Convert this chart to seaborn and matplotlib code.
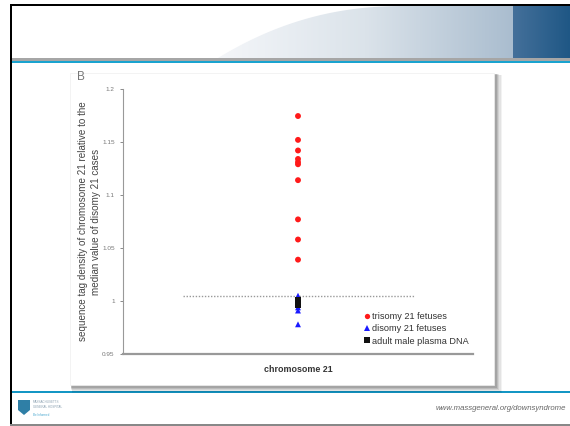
import numpy as np
import pandas as pd
import matplotlib
matplotlib.use("Agg")
import matplotlib.pyplot as plt
from matplotlib.patches import Rectangle, Polygon
from matplotlib.colors import LinearSegmentedColormap
import seaborn as sns

# ---- data ----
trisomy = [1.1745, 1.152, 1.142, 1.134, 1.131, 1.129, 1.114, 1.077, 1.058, 1.039]
disomy = [1.005, 0.994, 0.991, 0.978]
adult_male = [1.001, 0.998, 0.996]
groups = ["trisomy 21 fetuses", "disomy 21 fetuses", "adult male plasma DNA"]
yticks = [0.95, 1.0, 1.05, 1.1, 1.15, 1.2]
ytick_labels = ["0.95", "1", "1.05", "1.1", "1.15", "1.2"]
threshold = 1.005
ylabel = "sequence tag density of chromosome 21 relative to the\nmedian value of disomy 21 cases"
xlabel = "chromosome 21"
url = "www.massgeneral.org/downsyndrome"

df = pd.DataFrame({
    "value": trisomy + disomy + adult_male,
    "group": [groups[0]] * len(trisomy) + [groups[1]] * len(disomy) + [groups[2]] * len(adult_male),
})
df["x"] = 0.0

sns.set_theme(style="white")
plt.rcParams["font.family"] = ["Liberation Sans", "DejaVu Sans"]

W, H = 570, 426
fig = plt.figure(figsize=(W / 100, H / 100), dpi=100)
fig.patch.set_facecolor("white")

# ---- slide background in pixel coordinates ----
bg = fig.add_axes([0, 0, 1, 1])
bg.axis("off")

# header curved gradient shape (gentle arc on the left)
u = np.linspace(0, 1, 80)
cx = 218 + (405 - 218) * u
cy = 58 - 52 * (1 - (1 - u) ** 2.2)
pts = list(zip(cx, cy)) + [(513, 6), (513, 58)]
poly = Polygon(pts, closed=True, facecolor="none", edgecolor="none")
bg.add_patch(poly)
grad = np.linspace(0, 1, 256).reshape(1, -1)
cm1 = LinearSegmentedColormap.from_list("g1", ["#f4f6f9", "#dbe3ea", "#aabdcf"])
im = bg.imshow(grad, cmap=cm1, extent=(218, 513, 58, 6), aspect="auto", zorder=1)
im.set_clip_path(poly)
cm2 = LinearSegmentedColormap.from_list("g2", ["#44709a", "#1f5785"])
bg.imshow(grad, cmap=cm2, extent=(513, 570, 58, 6), aspect="auto", zorder=1)
bg.set_xlim(0, W)
bg.set_ylim(H, 0)

# header lines
bg.add_patch(Rectangle((10, 58), 560, 3, facecolor="#a6a6a6", edgecolor="none", zorder=2))
bg.add_patch(Rectangle((10, 61), 560, 2, facecolor="#1aa3cf", edgecolor="none", zorder=2))
# footer line
bg.add_patch(Rectangle((10, 391), 560, 2, facecolor="#1496c4", edgecolor="none", zorder=2))
# outer border
bg.add_patch(Rectangle((10, 4), 560, 2, facecolor="black", edgecolor="none", zorder=3))
bg.add_patch(Rectangle((10, 4), 2, 422, facecolor="black", edgecolor="none", zorder=3))
bg.add_patch(Rectangle((10, 424), 560, 2, facecolor="#888888", edgecolor="none", zorder=3))

# panel shadow + panel
for i, a in enumerate([0.05, 0.06, 0.08, 0.10, 0.12]):
    off = 6 - i
    bg.add_patch(Rectangle((70 + off * 0.3, 73 + off * 0.3), 424 + off, 312 + off,
                           facecolor="black", alpha=a, edgecolor="none", zorder=3))
bg.add_patch(Rectangle((70, 73), 424, 312, facecolor="white", edgecolor="#eeeeee", lw=0.5, zorder=4))

# footer logo (shield + tiny text)
shield = Polygon([(18, 400), (30, 400), (30, 410), (24, 415), (18, 410)], closed=True,
                 facecolor="#2f7fa6", edgecolor="none", zorder=5)
bg.add_patch(shield)
bg.text(33, 402, "MASSACHUSETTS", fontsize=2.2, color="#8aa0b0", va="center", zorder=5)
bg.text(33, 407, "GENERAL HOSPITAL", fontsize=2.2, color="#8aa0b0", va="center", zorder=5)
bg.text(33, 415, "Be Informed", fontsize=2.2, color="#4aa8d0", va="center", zorder=5)
bg.text(566, 409, url, fontsize=5.6, style="italic", color="#666666", ha="right", va="center", zorder=5)

# panel label
bg.text(77, 77, "B", fontsize=8.5, color="#777777", ha="left", va="center", zorder=6)

# ---- chart axes ----
left, right = 123 / W, 473 / W
bottom, top = (H - 354) / H, (H - 89) / H
ax = fig.add_axes([left, bottom, right - left, top - bottom])
ax.set_zorder(5)
ax.patch.set_alpha(0)

palette = {groups[0]: "#ff1a1a", groups[1]: "#1a1aff", groups[2]: "#111111"}
markers = {groups[0]: "o", groups[1]: "^", groups[2]: "s"}
sns.scatterplot(data=df, x="x", y="value", hue="group", style="group",
                palette=palette, markers=markers, hue_order=groups, style_order=groups,
                s=18, linewidth=0, ax=ax, zorder=4)

ax.plot([-0.66, 0.66], [threshold, threshold], linestyle=(0, (1, 1.2)), color="#999999",
        lw=1.0, zorder=2)

ax.set_xlim(-1, 1)
ax.set_ylim(0.95, 1.2)
ax.set_yticks(yticks)
ax.set_yticklabels(ytick_labels)
ax.set_xticks([])
ax.tick_params(axis="y", labelsize=4.6, colors="#777777", length=2, width=0.6, pad=4,
               left=True, direction="out")
for s in ["top", "right"]:
    ax.spines[s].set_visible(False)
ax.spines["left"].set_color("#999999")
ax.spines["left"].set_linewidth(0.8)
ax.spines["bottom"].set_color("#999999")
ax.spines["bottom"].set_linewidth(1.6)

ax.set_ylabel(ylabel, fontsize=7.1, color="#444444", labelpad=1, linespacing=1.35)
ax.set_xlabel(xlabel, fontsize=6.4, color="#333333", labelpad=8, fontweight="bold")

leg = ax.legend(loc="lower left", bbox_to_anchor=(0.676, 0.018), frameon=False,
                fontsize=6.6, handlelength=0.8, handletextpad=0.2, labelspacing=0.35,
                borderaxespad=0, markerscale=0.9)
for txt in leg.get_texts():
    txt.set_color("#333333")

fig.savefig("out.png", dpi=100, facecolor="white")
